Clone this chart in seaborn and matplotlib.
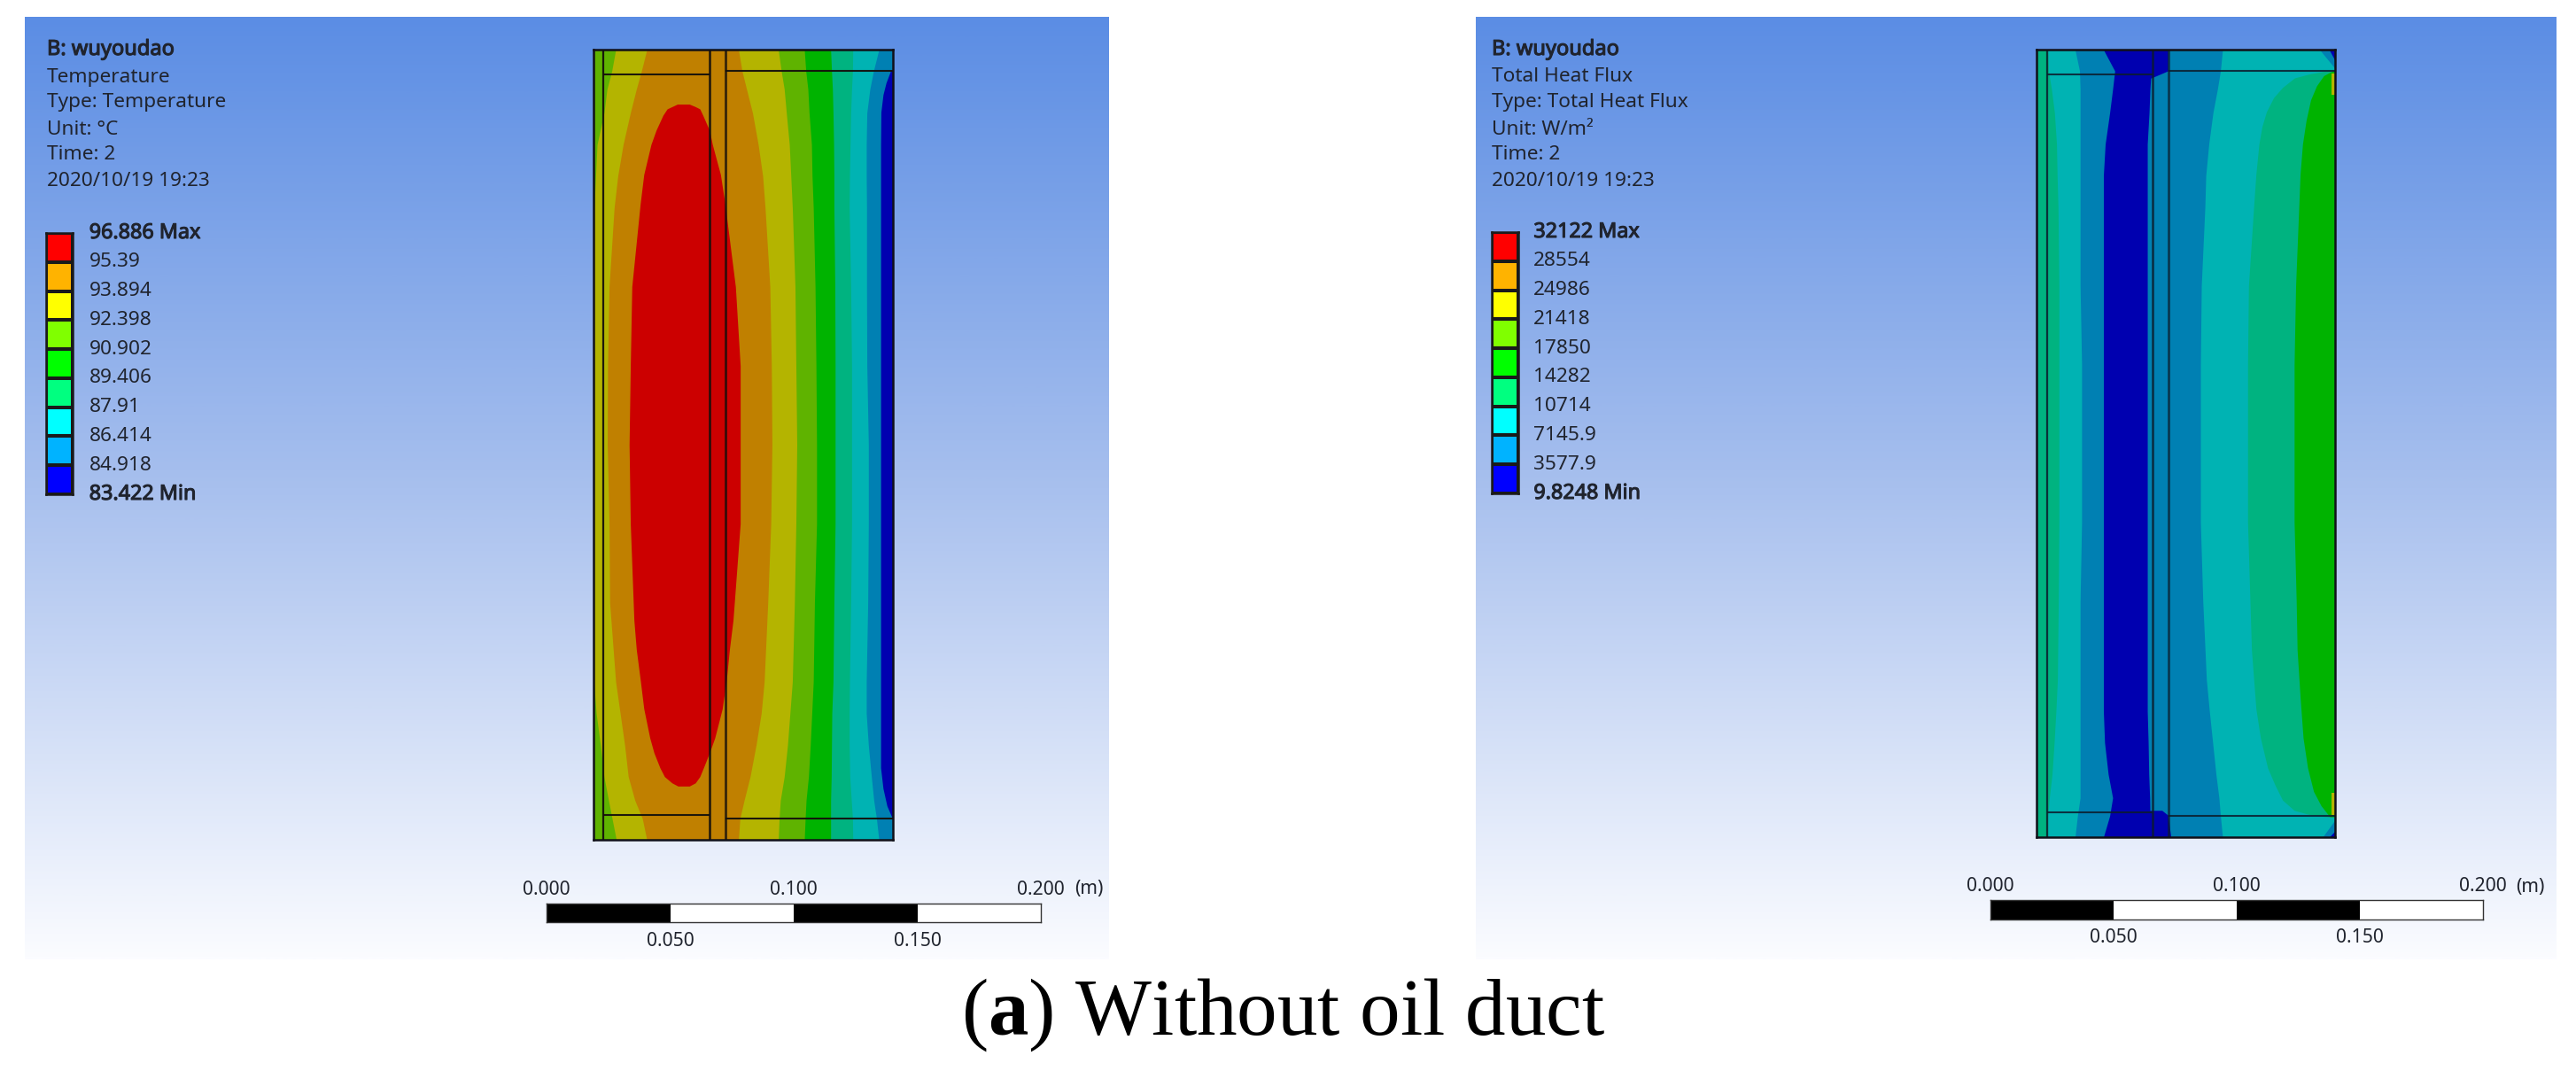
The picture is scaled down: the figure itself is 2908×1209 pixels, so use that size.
import numpy as np
import pandas as pd
import matplotlib
matplotlib.use("Agg")
import matplotlib.pyplot as plt
import matplotlib.patheffects as pe
from matplotlib.colors import LinearSegmentedColormap, ListedColormap
import seaborn as sns

# ---------- data: text ----------
temp_header = ["B: wuyoudao", "Temperature", "Type: Temperature", "Unit: °C", "Time: 2", "2020/10/19 19:23"]
flux_header = ["B: wuyoudao", "Total Heat Flux", "Type: Total Heat Flux", "Unit: W/m²", "Time: 2", "2020/10/19 19:23"]
temp_levels = ["96.886 Max", "95.39", "93.894", "92.398", "90.902", "89.406", "87.91", "86.414", "84.918", "83.422 Min"]
flux_levels = ["32122 Max", "28554", "24986", "21418", "17850", "14282", "10714", "7145.9", "3577.9", "9.8248 Min"]
legend_colors = ["#ff0000", "#ffb300", "#ffff00", "#80ff00", "#00ff00", "#00ff80", "#00ffff", "#00b3ff", "#0000ff"]
scale_ticks = [0.000, 0.050, 0.100, 0.150, 0.200]
scale_labels = ["0.000", "0.050", "0.100", "0.150", "0.200 (m)"]
caption = r"($\mathbf{a}$) Without oil duct"

# ---------- data: band edges, % of model width at % of model height ----------
stations = [0, 2.7, 5, 8, 12, 16, 20, 30, 40, 50, 60, 70, 80, 84, 88, 92, 95, 97.3, 100]

t_a = [7.4, 6.1, 4.5, 3.5, 1.2, 0.7, 0.2, 0.1, 0.1, 0.1, 0.1, 0.1, 0.1, 0.9, 2.3, 3.5, 5.0, 6.2, 7.6]
t_b = [17.8, 16.0, 14.3, 12.3, 9.9, 8.1, 6.9, 5.2, 4.7, 4.6, 5.2, 5.4, 7.4, 8.9, 10.4, 11.6, 13.8, 16.3, 17.8]
t_c = [48.4, 49.6, 51.1, 53.1, 55.0, 56.5, 57.3, 58.9, 59.4, 59.6, 59.2, 58.2, 57.0, 56.0, 54.3, 52.3, 50.3, 48.9, 48.4]
t_d = [61.7, 62.7, 63.7, 64.4, 65.4, 65.9, 66.4, 67.3, 67.6, 67.9, 67.6, 67.1, 66.4, 65.6, 64.8, 63.7, 62.4, 62.0, 61.7]
t_e = [70.4, 70.9, 71.6, 72.0, 72.8, 73.0, 73.4, 74.0, 74.3, 74.5, 74.5, 73.8, 73.4, 72.9, 72.4, 71.8, 71.0, 70.7, 70.4]
t_f = [79.2, 79.5, 79.8, 80.0, 80.2, 80.3, 80.3, 80.6, 80.7, 80.7, 80.7, 80.3, 80.0, 79.6, 79.5, 79.4, 79.2, 79.2, 79.2]
t_g = [86.6, 86.5, 86.2, 85.9, 85.7, 85.5, 85.4, 85.9, 86.2, 86.2, 86.2, 85.9, 85.5, 85.4, 85.4, 85.6, 86.1, 86.5, 86.6]
t_h = [95.3, 93.5, 92.3, 91.3, 91.1, 91.1, 91.2, 91.2, 91.3, 91.8, 91.8, 91.6, 91.1, 91.1, 91.8, 92.8, 93.6, 94.5, 95.3]
t_i_y = [2.7, 4.2, 5.7, 7.9, 12, 30, 50, 70, 90.9, 93.5, 95.7, 97.2]
t_i = [99.2, 97.7, 96.7, 96.0, 95.9, 95.9, 95.9, 95.9, 95.9, 96.7, 98.0, 99.7]

red_y = [6.9, 7.2, 7.5, 8.3, 10.2, 12, 15.8, 19.5, 30, 40, 50, 60, 72.2, 75.9, 79.7, 83.4, 87.1, 89, 90.9, 92, 92.8, 93.2]
red_left = [28.0, 26.3, 24.6, 23.2, 20.9, 19.2, 16.8, 15.6, 12.8, 12.3, 11.9, 12.3, 13.5, 14.3, 15.6, 16.8, 18.8, 20.2, 22.2, 23.7, 26.2, 28.2]
red_right = [32.0, 33.9, 35.5, 36.5, 38.7, 39.7, 42.4, 43.9, 47.4, 49.0, 49.0, 49.0, 46.6, 45.4, 44.4, 43.0, 40.5, 38.7, 36.7, 35.5, 34.0, 32.0]

f_p = [3.8, 4.0, 5.0, 6.0, 6.7, 6.9, 7.2, 7.5, 7.5, 7.5, 7.5, 7.3, 7.0, 6.5, 5.9, 5.2, 4.3, 3.8, 3.8]
f_q = [12.9, 14.4, 14.6, 14.6, 14.6, 14.6, 14.6, 14.6, 15.1, 15.1, 15.1, 14.6, 14.6, 14.6, 14.6, 14.6, 14.6, 13.7, 12.9]
f_r = [22.4, 26.2, 25.5, 24.5, 23.0, 22.4, 22.4, 22.4, 22.4, 22.4, 22.4, 22.4, 22.4, 22.4, 22.8, 24.0, 25.5, 24.5, 22.4]
f_s = [38.4, 38.4, 38.0, 37.7, 37.1, 37.1, 37.1, 37.1, 37.1, 37.1, 37.1, 37.1, 37.1, 37.1, 37.4, 37.6, 37.9, 38.0, 38.0]
f_t = [62.3, 61.6, 60.6, 59.1, 57.7, 56.7, 56.4, 55.2, 54.9, 54.9, 54.9, 55.7, 56.9, 57.9, 59.0, 60.1, 61.1, 61.6, 62.3]
f_u_y = [2.7, 3.1, 3.6, 4.8, 6.1, 7.9, 9.8, 12, 15.8, 19.6, 30, 40, 50, 60, 70, 76.2, 83.7, 87.4, 91.2, 93.4, 95.3, 96.6, 97.2, 97.5]
f_u = [97.2, 91.3, 86.4, 82.4, 79.4, 77.0, 75.5, 74.5, 73.5, 72.8, 71.0, 70.7, 70.7, 70.7, 71.5, 72.0, 73.5, 75.0, 77.4, 79.9, 82.4, 86.3, 92.0, 99.2]
f_v_y = [2.7, 3.3, 4.6, 6.4, 9, 12, 15.8, 19.6, 30, 40, 50, 60, 70, 76.2, 82.2, 87.4, 91.2, 94.2, 96, 97.4]
f_v = [99.2, 96.2, 93.8, 91.8, 90.3, 89.1, 88.3, 87.9, 86.8, 86.3, 86.3, 86.3, 87.0, 87.3, 88.3, 89.3, 90.8, 92.8, 95.3, 98.2]

cap_top_y = [0, 2.7, 3.6]
cap_top_x = [44.0, 44.0, 38.4]
cap_bot_y = [96.6, 97.2, 100]
cap_bot_x = [42.0, 44.0, 45.0]
cap_inner_x = [30, 30, 30]
corner_top_y = [0, 2.4]
corner_blue_top = [94.8, 100]
corner_dark_y = [0, 1.4]
corner_dark_top = [98.0, 100]
corner_bot_y = [97.8, 100]
corner_blue_bot = [100, 95.8]
corner_dark_bot_y = [99.2, 100]
corner_dark_bot = [100, 98.0]
olive_top_y = [3.0, 5.7]
olive_bot_y = [94.4, 97.2]
olive_x = [98.9, 98.9]

# model part lines, % of model size
t_verticals = [3.2, 38.8, 44.2]
f_verticals = [3.6, 38.9, 44.2]
left_plate_y = [3.1, 96.9]
right_plate_y = [2.7, 97.3]

# ---------- styling ----------
W, H = 2908, 1209
C_RED, C_ORANGE, C_OLIVE = "#cc0000", "#c08000", "#b4b400"
C_LIME, C_GREEN, C_TEAL = "#5fb300", "#00b300", "#00b380"
C_CYAN, C_BLUE, C_DARK = "#00b3b3", "#0080b3", "#0000b0"
TEXT = "#20242e"
GRAD = ["#5b8de4", "#a8c0ee", "#fbfcff"]
BOLD = [pe.withStroke(linewidth=0.8, foreground=TEXT)]

sns.set_theme(style="white")
plt.rcParams["font.family"] = ["Noto Sans", "DejaVu Sans"]
plt.rcParams["mathtext.fontset"] = "custom"
plt.rcParams["mathtext.bf"] = "Liberation Serif:bold"
plt.rcParams["mathtext.rm"] = "Liberation Serif"

fig = plt.figure(figsize=(W / 100, H / 100), dpi=100, facecolor="white")


def axes_px(x0, y0, x1, y1):
    return fig.add_axes([x0 / W, 1 - y1 / H, (x1 - x0) / W, (y1 - y0) / H])


def panel_background(x0, x1):
    ax = axes_px(x0, 19, x1, 1083)
    cmap = LinearSegmentedColormap.from_list("bg", GRAD)
    ax.imshow(np.linspace(0, 1, 512)[:, None], aspect="auto", cmap=cmap, vmin=0, vmax=1)
    ax.axis("off")
    return ax


def header_text(x, lines):
    ax = axes_px(0, 0, W, H)
    ax.set_xlim(0, W)
    ax.set_ylim(H, 0)
    ax.axis("off")
    ys = [56, 87, 116, 146, 175, 204]
    for i, (line, y) in enumerate(zip(lines, ys)):
        t = ax.text(x, y, line, fontsize=17 if i == 0 else 16.3, color=TEXT, va="center", ha="left")
        if i == 0:
            t.set_path_effects(BOLD)


def legend_strip(x0, x1, y0, y1, labels, pad):
    ax = axes_px(x0, y0, x1, y1)
    table = pd.DataFrame({"band": np.arange(len(legend_colors))})
    sns.heatmap(table, ax=ax, cmap=ListedColormap(legend_colors), cbar=False,
                linewidths=1.6, linecolor="#1a1a1a", xticklabels=False, yticklabels=False)
    for s in ax.spines.values():
        s.set_visible(True)
        s.set_color("#1a1a1a")
        s.set_linewidth(1.8)
    ax.set_ylabel("")
    ax.yaxis.tick_right()
    ax.set_yticks(np.arange(len(labels)))
    ax.set_yticklabels(labels, fontsize=16.3, color=TEXT, rotation=0, va="center")
    ax.tick_params(axis="y", length=0, pad=pad, right=False, left=False)
    for i, lab in enumerate(ax.get_yticklabels()):
        if i in (0, len(labels) - 1):
            lab.set_path_effects(BOLD)
            lab.set_fontsize(16.8)


def scale_bar(x0, x1, y0, y1, ylab_top, ylab_bot):
    ax = axes_px(x0, y0, x1, y1)
    lefts = scale_ticks[:-1]
    widths = np.diff(scale_ticks)
    ax.barh([0, 0, 0, 0], widths, left=lefts, height=1, align="edge",
            color=["black", "white", "black", "white"], edgecolor="none")
    ax.set_xlim(scale_ticks[0], scale_ticks[-1])
    ax.set_ylim(0, 1)
    ax.set_xticks([])
    ax.set_yticks([])
    for s in ax.spines.values():
        s.set_visible(True)
        s.set_color("#333333")
        s.set_linewidth(1.0)
    trans = ax.get_xaxis_transform()
    h = y1 - y0
    for i, (t, lab) in enumerate(zip(scale_ticks, scale_labels)):
        yy = 1 + (y0 - ylab_top) / h if i % 2 == 0 else -(ylab_bot - y1) / h
        if i == len(scale_ticks) - 1:
            ax.text(t, yy, "0.200", transform=trans, ha="center", va="center",
                    fontsize=15.2, color=TEXT, clip_on=False)
            ax.text(t + 0.0135, yy, "(m)", transform=trans, ha="left", va="center",
                    fontsize=15.2, color=TEXT, clip_on=False)
        else:
            ax.text(t, yy, lab, transform=trans, ha="center", va="center",
                    fontsize=15.2, color=TEXT, clip_on=False)


def model_axes(x0, y0, x1, y1, base):
    ax = axes_px(x0, y0, x1, y1)
    ax.set_xlim(0, 100)
    ax.set_ylim(100, 0)
    ax.set_xticks([])
    ax.set_yticks([])
    ax.set_facecolor(base)
    for s in ax.spines.values():
        s.set_visible(True)
        s.set_color("#101018")
        s.set_linewidth(1.8)
    return ax


def paint_from(ax, y, edge, color):
    # each band is painted from its left edge to the right side of the model
    ax.fill_betweenx(y, edge, 100, color=color, lw=0)


def draw_parts(ax, verticals, color, alpha):
    v0, v1, v2 = verticals
    ax.axvline(v0, color=color, lw=1.6, alpha=alpha)
    ax.axvline(v1, color=color, lw=1.8, alpha=alpha)
    ax.axvline(v2, color=color, lw=2.0, alpha=alpha * 0.85)
    for y in left_plate_y:
        ax.plot([v0, v1], [y, y], color=color, lw=1.5, alpha=alpha, solid_capstyle="butt")
    for y in right_plate_y:
        ax.plot([v2, 100], [y, y], color=color, lw=1.5, alpha=alpha, solid_capstyle="butt")


# ---------- left panel: temperature ----------
panel_background(28, 1252)
header_text(53, temp_header)
legend_strip(52, 82, 263, 558, temp_levels, 13.5)
scale_bar(617, 1175, 1020, 1041, 1004, 1063)
ax_t = model_axes(670, 56, 1008, 948, C_LIME)
for edge, col in zip([t_a, t_b, t_c, t_d, t_e, t_f, t_g, t_h],
                     [C_OLIVE, C_ORANGE, C_OLIVE, C_LIME, C_GREEN, C_TEAL, C_CYAN, C_BLUE]):
    paint_from(ax_t, stations, edge, col)
paint_from(ax_t, t_i_y, t_i, C_DARK)
ax_t.fill_betweenx(red_y, red_left, red_right, color=C_RED, lw=0)
draw_parts(ax_t, t_verticals, "#14100c", 0.95)

# ---------- right panel: heat flux ----------
panel_background(1666, 2886)
header_text(1684, flux_header)
legend_strip(1684, 1714, 262, 557, flux_levels, 12.5)
scale_bar(2247, 2803, 1016, 1038, 1001, 1059)
ax_f = model_axes(2299, 56, 2636, 945, C_TEAL)
for edge, col in zip([f_p, f_q, f_r, f_s, f_t],
                     [C_CYAN, C_BLUE, C_DARK, C_BLUE, C_CYAN]):
    paint_from(ax_f, stations, edge, col)
paint_from(ax_f, f_u_y, f_u, C_TEAL)
paint_from(ax_f, f_v_y, f_v, C_GREEN)
ax_f.fill_betweenx(cap_top_y, cap_inner_x, cap_top_x, color=C_DARK, lw=0)
ax_f.fill_betweenx(cap_bot_y, cap_inner_x, cap_bot_x, color=C_DARK, lw=0)
ax_f.fill_betweenx(corner_top_y, corner_blue_top, [100, 100], color=C_BLUE, lw=0)
ax_f.fill_betweenx(corner_dark_y, corner_dark_top, [100, 100], color=C_DARK, lw=0)
ax_f.fill_betweenx(corner_bot_y, corner_blue_bot, [100, 100], color=C_BLUE, lw=0)
ax_f.fill_betweenx(corner_dark_bot_y, corner_dark_bot, [100, 100], color=C_DARK, lw=0)
ax_f.fill_betweenx(olive_top_y, olive_x, [100, 100], color=C_OLIVE, lw=0)
ax_f.fill_betweenx(olive_bot_y, olive_x, [100, 100], color=C_OLIVE, lw=0)
draw_parts(ax_f, f_verticals, "#0c1c2c", 0.85)

# ---------- caption ----------
fig.text(1448 / W, 1 - 1168 / H, caption, fontsize=65.5, ha="center", va="baseline",
         color="black", family=["Liberation Serif"])

fig.savefig("out.png", dpi=100, facecolor="white")
